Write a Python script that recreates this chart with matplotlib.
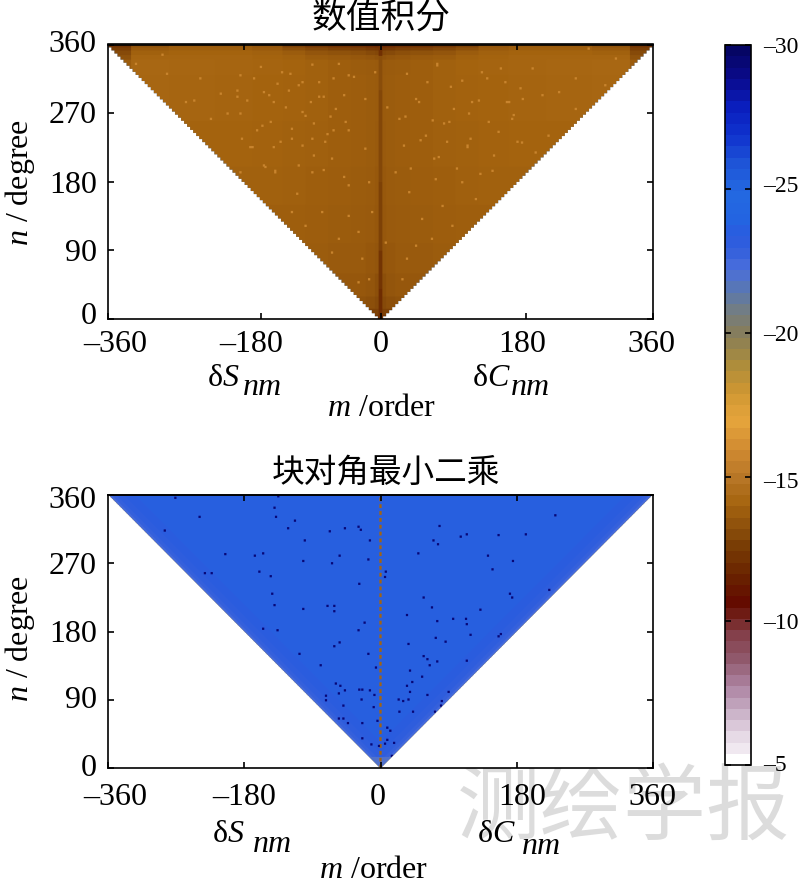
import numpy as np
import matplotlib
matplotlib.use("Agg")
import matplotlib.pyplot as plt
from matplotlib.cm import ScalarMappable
from matplotlib.colors import LinearSegmentedColormap, Normalize
from matplotlib.transforms import ScaledTranslation

plt.rcParams['font.family'] = ['Liberation Serif', 'Noto Sans CJK SC', 'DejaVu Sans']
plt.rcParams['mathtext.fontset'] = 'custom'
plt.rcParams['mathtext.rm'] = 'Liberation Serif'
plt.rcParams['mathtext.it'] = 'Liberation Serif:italic'

# ---------- data ----------
cbar_values = [-30, -29, -28, -27, -26, -25, -24, -23.5, -23, -22.3, -21.5, -21, -20, -19, -18, -17, -16, -15, -14,
               -13, -12.5, -11.5, -10.5, -10, -9.5, -8.5, -7.5, -7, -6, -5.4, -5]
cbar_colors = ['#050564', '#0A0A8C', '#0A1EBE', '#0F32CD', '#1E55D7', '#2369E1', '#2364E1', '#2A5CDF', '#325FDC',
               '#4B6EDC', '#5A78AF', '#6E7D8C', '#877D5A', '#AA8C3C', '#CD9632', '#E6A53C', '#D28C32',
               '#B97828', '#A5640F', '#874B0A', '#783C05', '#692300', '#640A00', '#73231E', '#823C46',
               '#915A6E', '#AF87A5', '#BEA0B9', '#E1D2E1', '#F0E8F0', '#FFFFFF']
cbar_ticks = [-30, -25, -20, -15, -10, -5]
cbar_labels = ['–30', '–25', '–20', '–15', '–10', '–5']

deg_ticks = [0, 90, 180, 270, 360]
order_tick_labels = ['–360', '–180', '0', '180', '360']
order_top_ticks = [-180, 0, 180]
upper_bottom_ticks = [-360, -158, 0, 192, 360]
lower_bottom_ticks = [-360, -180, 0, 180, 360]

# upper panel: log10 level by degree band (rows) and |order| band (columns)
upper_n_edges = [0, 6, 14, 30, 60, 100, 150, 200, 260, 320, 340, 346, 352, 356]
upper_m_edges = [0, 8, 20, 40, 70, 100, 130, 170, 220, 280, 330]
upper_levels = [
    [-12.3] * 11,
    [-12.7] * 11,
    [-13.0, -13.2, -13.3, -13.3, -13.3, -13.3, -13.3, -13.3, -13.3, -13.3, -13.3],
    [-13.2, -13.4, -13.5, -13.5, -13.5, -13.5, -13.5, -13.5, -13.5, -13.5, -13.5],
    [-13.4, -13.5, -13.6, -13.6, -13.7, -13.7, -13.7, -13.7, -13.7, -13.7, -13.7],
    [-13.5, -13.6, -13.65, -13.7, -13.75, -13.8, -13.8, -13.8, -13.8, -13.8, -13.8],
    [-13.55, -13.65, -13.7, -13.75, -13.8, -13.85, -13.9, -13.9, -13.9, -13.9, -13.9],
    [-13.6, -13.7, -13.75, -13.8, -13.85, -13.9, -13.95, -14.0, -14.0, -14.0, -14.0],
    [-13.65, -13.7, -13.75, -13.8, -13.9, -13.95, -14.0, -14.05, -14.1, -14.15, -14.15],
    [-13.6, -13.65, -13.7, -13.8, -13.9, -14.0, -14.05, -14.1, -14.15, -14.2, -13.7],
    [-13.3, -13.4, -13.5, -13.6, -13.7, -13.9, -14.0, -14.1, -14.1, -14.1, -13.3],
    [-12.9, -13.0, -13.2, -13.3, -13.4, -13.7, -13.9, -14.0, -14.0, -13.9, -13.0],
    [-12.3, -12.4, -12.6, -12.7, -12.9, -13.2, -13.6, -13.8, -13.8, -13.6, -12.6],
    [-11.7, -11.8, -12.0, -12.1, -12.3, -12.7, -13.4, -13.6, -13.6, -13.3, -12.2],
]
upper_center_n_edges = [0, 40, 90, 180, 300, 345]
upper_center_levels = [-11.9, -12.2, -12.7, -12.9, -13.1, -12.0]
upper_speck_level = -15.6
upper_specks_m = [-289, -324, -239, -247, -212, -225, -283, -190, -148, -131, -104, -82, -56, -36, -100, -71, -118,
                  -153, -170, -140, -65, -43, -91, -111, -118, -78, -43, -56, -25, -16, -100, -65, -30, -258, -203,
                  -157, -126, -184, -91, -47, -21, -8, -21, -16, -12, -30,
                  187, 166, 164, 114, 147, 76, 37, 54, 34, 6, 24, 8, 46, 74, 107, 133, 200, 235, 274, 310, 257,
                  221, 186, 204, 155, 90, 59, 107, 125, 81, 67, 94, 46, 28, 19, 72, 296, 257, 213, 173,
                  -91, -168, -186, -155, -109, -82, -63, -120, -137, -177, -142, -104, -76, -49, -60, -93, -118,
                  -146, -186, -164, -43, -74, -104, -173, -142, -63, -155, -186, -109, -140, -76, -49, -133, -89,
                  -122, -43, -159, -190, -67, -89,
                  164, 120, 169, 129, 34, 74, 92, 140, 50, 32, 68, 96, 142, 116, 52, 83, 114, 118, 30, 70, 100,
                  149, 39, 131, 180, 61, 158, 184, 175, 87]
upper_specks_n = [345, 333, 314, 285, 294, 261, 320, 290, 292, 322, 309, 290, 333, 316, 265, 241, 235,
                  198, 224, 193, 209, 174, 191, 163, 139, 139, 134, 104, 78, 51, 121, 86, 113, 283, 268,
                  252, 276, 235, 235, 257, 287, 322, 222, 178, 139, 47,
                  287, 283, 309, 226, 193, 211, 165, 130, 78, 99, 261, 276, 287, 333, 311, 322, 327, 296, 353,
                  340, 274, 239, 230, 217, 244, 257, 239, 178, 156, 147, 104, 121, 95, 51, 191, 182, 305, 314,
                  292, 261,
                  332, 314, 318, 296, 305, 309, 314, 320, 307, 285, 283, 270, 290, 292, 274, 283, 248,
                  257, 268, 246, 246, 231, 226, 224, 224, 246, 200, 191, 200, 191, 194, 185, 231, 213,
                  298, 318, 329, 298, 264, 255,
                  309, 283, 283, 285, 320, 331, 303, 314, 283, 264, 259, 274, 257, 268, 233, 255, 224, 235, 226,
                  209, 196, 213, 196, 189, 231, 309, 327, 301, 266, 231]

# lower panel: level by distance from the diagonal edge
lower_edge_dist = [0, 4, 10, 20, 35]
lower_edge_levels = [-22.5, -22.9, -23.2, -23.45, -23.7]
lower_apex_level = -22.0
lower_center_level = -14.0
lower_center_dash_n = [n for n in range(0, 360, 9)]
lower_dot_level = -29.5
lower_dots_m = [-272, -136, -141, -139, -240, -114, -286, -123, -68, -48, -30, -27, -101, -15, -206, -167, -156,
                -103, -55, -17, -65, -161, -233, -224, -146, -29, -144, -141, -103, -71, -62, -62, -22, -156,
                -137, -30, -55, -62, -108, -17, -80, -7, -60, -54, -56, -48, -29, -25, -15, -9, -73, -73, -26,
                -50, -10, -56, -50, -5, -44, -25, -25, -13,
                230, 77, 191, 155, 113, 105, 69, 75, 49, 141, 174, 147, 6, 5, 222, 170, 173, 56, 67, 131, 34, 95,
                112, 74, 113, 158, 155, 118, 72, 85, 36, 56, 61, 74, 113, 64, 38, 54, 41, 34, 38, 61, 89, 23, 29,
                36, 80, 79, 24, 42, 71, -5, 8, 12, 8, 17, 5, -3, 14]
lower_dots_n = [354, 356, 341, 329, 329, 324, 311, 314, 310, 314, 316, 312, 298, 298, 280, 278, 281,
                271, 278, 273, 268, 257, 255, 255, 251, 241, 228, 213, 208, 212, 212, 205, 190, 182,
                180, 180, 164, 159, 149, 149, 134, 131, 110, 107, 97, 101, 102, 102, 101, 95, 94, 88, 89,
                81, 79, 64, 64, 61, 58, 58, 38, 30,
                331, 317, 306, 305, 306, 303, 298, 293, 281, 278, 271, 260, 257, 250, 233, 228, 223, 223, 210,
                207, 200, 195, 195, 192, 188, 175, 172, 174, 170, 165, 162, 146, 142, 139, 140, 134, 127, 119,
                112, 107, 99, 95, 99, 89, 87, 89, 87, 81, 73, 73, 73, 61, 52, 48, 36, 32, 31, 28, 15]

# ---------- helpers ----------
W, H = 800, 886
fig = plt.figure(figsize=(W / 100, H / 100), dpi=100)


def px_axes(l, r, t, b):
    return fig.add_axes([l / W, 1 - b / H, (r - l) / W, (b - t) / H])


def ftext(x, y, s, **kw):
    kw.setdefault('va', 'center')
    kw.setdefault('ha', 'left')
    return fig.text(x / W, 1 - y / H, s, **kw)


anchors = [((v + 30) / 25, c) for v, c in zip(cbar_values, cbar_colors)]
cmap_bar = LinearSegmentedColormap.from_list('cm_bar', anchors, N=64)
cmap_img = LinearSegmentedColormap.from_list('cm_img', anchors, N=1024)
norm = Normalize(-30, -5)
m_grid, n_grid = np.meshgrid(np.arange(-360, 361), np.arange(0, 361))


def upper_field():
    rows = np.searchsorted(upper_n_edges, n_grid, side='right') - 1
    cols = np.searchsorted(upper_m_edges, np.abs(m_grid), side='right') - 1
    z = np.array(upper_levels)[rows, cols]
    center = np.searchsorted(upper_center_n_edges, n_grid, side='right') - 1
    near = np.abs(m_grid) <= 2
    z[near] = np.array(upper_center_levels)[center][near]
    for m, n in zip(upper_specks_m, upper_specks_n):
        z[n:n + 3, m + 360:m + 363] = upper_speck_level
    return np.ma.array(z, mask=(np.abs(m_grid) // 4) > (n_grid // 4))


def lower_field():
    d = n_grid - np.abs(m_grid)
    idx = np.clip(np.searchsorted(lower_edge_dist, d, side='right') - 1, 0, len(lower_edge_levels) - 1)
    z = np.array(lower_edge_levels)[idx]
    z[n_grid < 15] = lower_apex_level
    for n in lower_center_dash_n:
        z[n:n + 5, 359:362] = lower_center_level
    for m, n in zip(lower_dots_m, lower_dots_n):
        z[n:n + 3, m + 360:m + 363] = lower_dot_level
    return np.ma.array(z, mask=np.abs(m_grid) > n_grid)


def style_panel(ax, z, bottom_ticks, xoff, yoff, xpad):
    im = ax.imshow(z, origin='lower', extent=[-360.5, 360.5, -0.5, 360.5], aspect='auto',
                   cmap=cmap_img, norm=norm, interpolation='antialiased', interpolation_stage='rgba')
    ax.set_xlim(-360, 360)
    ax.set_ylim(0, 360)
    ax.set_xticks(bottom_ticks, order_tick_labels)
    ax.set_yticks(deg_ticks, [str(d) for d in deg_ticks])
    ax.tick_params(axis='both', direction='in', length=4, width=1.2, labelsize=23, right=True)
    ax.tick_params(axis='x', pad=xpad)
    ax.tick_params(axis='y', pad=8)
    sec = ax.secondary_xaxis('top')
    sec.set_xticks(order_top_ticks, [])
    sec.tick_params(direction='in', length=4, width=1.2)
    sec.spines['top'].set_linewidth(1.2)
    for s in ax.spines.values():
        s.set_linewidth(1.2)
    for lab, dx in zip(ax.get_xticklabels(), xoff):
        lab.set_transform(lab.get_transform() + ScaledTranslation(dx / 100, 0, fig.dpi_scale_trans))
    for lab, dy in zip(ax.get_yticklabels(), yoff):
        lab.set_transform(lab.get_transform() + ScaledTranslation(0, dy / 100, fig.dpi_scale_trans))
    return im


# ---------- watermark ----------
ftext(624, 808, '测绘学报', ha='center', color='#DCDCDC', fontsize=60,
      family=['Noto Sans CJK SC'], zorder=-5)

# ---------- panels ----------
ax1 = px_axes(108, 653, 44.5, 319)
im1 = style_panel(ax1, upper_field(), upper_bottom_ticks, [7, -10, 0, -4, -2], [6, 0, 0, 1, 3], 8)
ax2 = px_axes(108, 653, 495, 768)
im2 = style_panel(ax2, lower_field(), lower_bottom_ticks, [7, 0, -3, 5, -1], [3, 3, 0, 0, -2], 11)

ftext(381, 18, '数值积分', ha='center', fontsize=25, family=['Noto Sans CJK SC'])
ftext(386, 473, '块对角最小二乘', ha='center', fontsize=23.5, family=['Noto Sans CJK SC'])

for yc in (182, 638):
    ftext(20, yc, '$n$ / degree', rotation=90, ha='center', fontsize=23)

ftext(381.5, 408, '$m$ /order', ha='center', fontsize=23)
ftext(374, 871, '$m$ /order', ha='center', fontsize=23)

for x, y, s in ((207, 379, 'δ$S$'), (472, 379, 'δ$C$'), (212, 835, 'δ$S$'), (477, 835, 'δ$C$')):
    ftext(x, y, s, fontsize=23)
for x, y in ((243, 388), (511, 388), (253, 845), (522, 846)):
    ftext(x, y, 'nm', fontsize=23, style='italic')

# ---------- colorbar ----------
cax = px_axes(725, 751, 45, 765)
cb = fig.colorbar(ScalarMappable(norm=norm, cmap=cmap_bar), cax=cax, ticks=cbar_ticks)
cax.invert_yaxis()
cb.ax.set_yticklabels(cbar_labels)
cb.outline.set_linewidth(1.2)
cax.tick_params(axis='y', direction='in', length=4, width=1.2, left=True, right=True, labelsize=17, pad=9)
cb_off = [0, 5, 0, -3, 0, 2]
for lab, dy in zip(cax.get_yticklabels(), cb_off):
    lab.set_transform(lab.get_transform() + ScaledTranslation(0, dy / 100, fig.dpi_scale_trans))

fig.savefig('out.png', dpi=100)
